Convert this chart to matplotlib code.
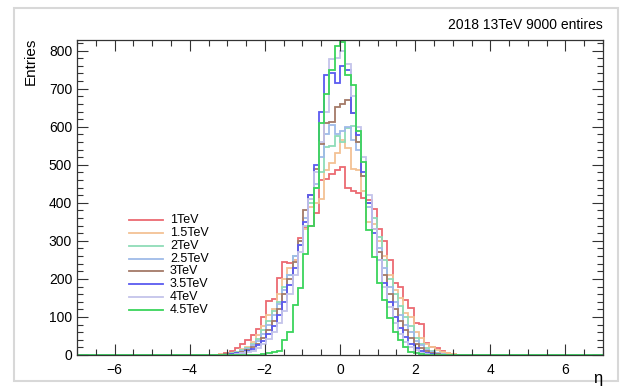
"""
Eta distributions for different masses (2018, 13 TeV)
"""

import numpy as np
import matplotlib.pyplot as plt
from matplotlib.patches import Rectangle

plt.rcParams["font.family"] = ["Liberation Sans", "DejaVu Sans"]

# ------------------------------------------------------------------------------------
# Data: 100 bins between -7 and 7, non-empty bins start at FIRST_BIN
# ------------------------------------------------------------------------------------
N_BINS = 100
ETA_MIN, ETA_MAX = -7.0, 7.0
FIRST_BIN = 26

labels = ["1TeV", "1.5TeV", "2TeV", "2.5TeV", "3TeV", "3.5TeV", "4TeV", "4.5TeV"]

counts_1tev = [1, 3, 6, 10, 18, 28, 39, 52, 68, 100, 142, 146, 202, 245, 241, 250,
               307, 337, 340, 373, 459, 462, 477, 486, 494, 438, 432, 425, 412, 407,
               385, 330, 300, 250, 190, 180, 144, 123, 84, 82, 31, 21, 18, 10, 5, 3, 1, 0]
counts_15tev = [0, 2, 3, 5, 8, 15, 22, 35, 52, 75, 105, 120, 160, 200, 230, 250,
                300, 330, 390, 400, 410, 486, 504, 530, 565, 545, 490, 486, 430, 350,
                345, 300, 260, 210, 170, 150, 110, 100, 60, 45, 30, 20, 12, 8, 4, 2, 1, 0]
counts_2tev = [0, 1, 2, 4, 7, 12, 18, 28, 42, 65, 90, 115, 140, 180, 210, 260,
               290, 340, 400, 440, 480, 547, 550, 575, 560, 598, 602, 560, 470, 400,
               360, 310, 250, 200, 160, 130, 100, 75, 45, 30, 18, 10, 6, 3, 1, 0, 0, 0]
counts_25tev = [0, 1, 2, 3, 6, 10, 16, 25, 38, 55, 80, 105, 135, 170, 210, 260,
                300, 360, 410, 450, 520, 580, 605, 582, 590, 600, 565, 540, 470, 390,
                330, 280, 230, 180, 140, 105, 80, 60, 38, 25, 14, 8, 4, 2, 1, 0, 0, 0]
counts_3tev = [0, 1, 2, 3, 5, 8, 12, 20, 30, 45, 65, 90, 120, 160, 200, 245,
               300, 380, 420, 490, 555, 609, 612, 652, 661, 669, 635, 560, 470, 400,
               330, 270, 210, 160, 120, 90, 65, 45, 30, 18, 10, 5, 3, 1, 0, 0, 0, 0]
counts_35tev = [0, 0, 1, 2, 4, 6, 10, 16, 25, 38, 55, 75, 105, 140, 185, 230,
                290, 350, 420, 500, 640, 735, 740, 714, 760, 748, 635, 577, 480, 400,
                320, 250, 190, 140, 100, 70, 48, 30, 18, 10, 5, 3, 1, 0, 0, 0, 0, 0]
counts_4tev = [0, 0, 0, 1, 2, 4, 7, 11, 18, 28, 42, 60, 85, 115, 160, 210,
               270, 340, 410, 480, 560, 640, 779, 780, 800, 766, 680, 600, 520, 420,
               330, 250, 180, 125, 85, 55, 35, 20, 12, 6, 3, 1, 0, 0, 0, 0, 0, 0]
counts_45tev = [0, 0, 0, 0, 0, 0, 0, 0, 1, 2, 4, 9, 10, 39, 60, 131,
                176, 265, 340, 440, 609, 687, 748, 812, 822, 735, 709, 590, 507, 328,
                258, 188, 144, 97, 61, 39, 22, 8, 4, 2, 1, 0, 0, 0, 0, 0, 0, 0]

all_counts = [counts_1tev, counts_15tev, counts_2tev, counts_25tev,
              counts_3tev, counts_35tev, counts_4tev, counts_45tev]

colors = ["#ec6a72", "#f3c194", "#8fdcb8", "#9fbbe8",
          "#a47a68", "#5a5af0", "#c4c4ea", "#3ad45c"]

edges = np.linspace(ETA_MIN, ETA_MAX, N_BINS + 1)


def _full(vals):
    h = np.zeros(N_BINS)
    h[FIRST_BIN:FIRST_BIN + len(vals)] = vals
    return h


# ------------------------------------------------------------------------------------
# Plot
# ------------------------------------------------------------------------------------
fig = plt.figure(figsize=(6.33, 3.87), dpi=100)
ax = fig.add_axes([77 / 633, 1 - 355 / 387, 526 / 633, 315 / 387])

# canvas frame of the screenshot
fig.patches.append(Rectangle((14 / 633, 1 - 381 / 387), 604 / 633, 373 / 387,
                             transform=fig.transFigure, fill=False,
                             edgecolor="#d8d8d8", lw=1.5))

for vals, c in zip(all_counts, colors):
    ax.stairs(_full(vals), edges, color=c, lw=1.3)

ax.set_xlim(ETA_MIN, ETA_MAX)
ax.set_ylim(0, 828)
ax.set_xticks(np.arange(-6, 7, 2))
ax.set_xticklabels(["\u22126", "\u22124", "\u22122", "0", "2", "4", "6"])
ax.set_xticks(np.arange(-7, 7.01, 0.5), minor=True)
ax.set_yticks(np.arange(0, 801, 100))
ax.set_yticks(np.arange(0, 821, 20), minor=True)
ax.tick_params(which="both", direction="in", top=True, right=True, labelsize=10,
               width=0.8, color="#333333")
ax.tick_params(which="major", length=8)
ax.tick_params(which="minor", length=4)
ax.tick_params(axis="x", pad=6)
for s in ax.spines.values():
    s.set_linewidth(0.9)
    s.set_color("#333333")

# legend drawn by hand (ROOT style, no frame)
leg_y = [220, 232.9, 245.7, 258.6, 271.4, 284.3, 297.1, 310]
for lab, c, yp in zip(labels, colors, leg_y):
    yf = (355 - yp) / 315
    ax.plot([(129 - 77) / 526, (163 - 77) / 526], [yf, yf], color=c, lw=1.3,
            transform=ax.transAxes)
    ax.text((170 - 77) / 526, yf, lab, transform=ax.transAxes, fontsize=9,
            va="center", ha="left")

fig.text(603 / 633, 1 - 25 / 387, "2018 13TeV 9000 entires", ha="right",
         va="center", fontsize=10)
fig.text(31 / 633, 1 - 38 / 387, "Entries", rotation=90, ha="center", va="top",
         fontsize=11)
fig.text(598 / 633, 1 - 378 / 387, "\u03b7", ha="center", va="center", fontsize=12)

fig.savefig("out.png", dpi=100)
